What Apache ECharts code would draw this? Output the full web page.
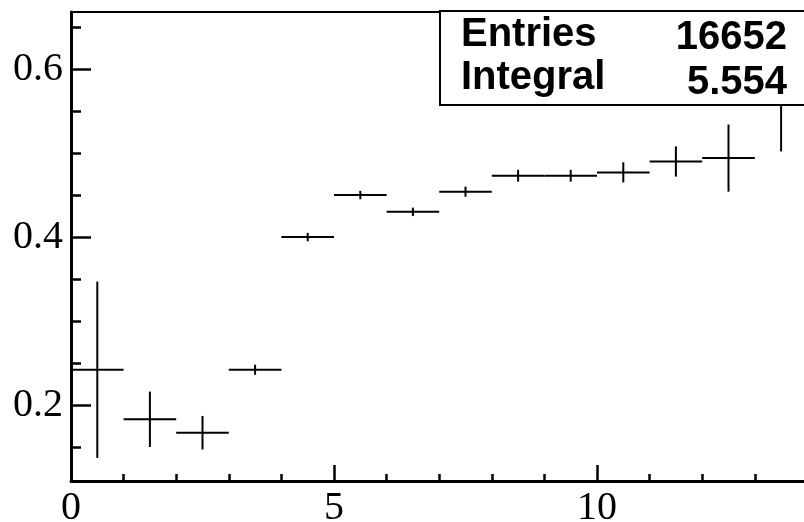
<!DOCTYPE html>
<html>
<head>
<meta charset="utf-8">
<script src="https://cdn.jsdelivr.net/npm/echarts@6/dist/echarts.min.js"></script>
<style>
  html, body { margin: 0; padding: 0; background: #fff; }
  #chart { width: 804px; height: 522px; }
</style>
</head>
<body>
<div id="chart"></div>
<script>
// histogram bins (centre, content, error)
const binCenters = [0.5, 1.5, 2.5, 3.5, 4.5, 5.5, 6.5, 7.5, 8.5, 9.5, 10.5, 11.5, 12.5, 13.5]
const binValues = [0.242, 0.183, 0.167, 0.242, 0.400, 0.450, 0.430, 0.454, 0.473, 0.473, 0.477, 0.490, 0.494, 0.565]
const binErrors = [0.105, 0.033, 0.020, 0.006, 0.005, 0.005, 0.005, 0.006, 0.007, 0.007, 0.012, 0.018, 0.040, 0.063]
const binWidth = 1

// axis ticks
const yMajorTicks = [0.2, 0.4, 0.6]
const yMinorTicks = [0.15, 0.25, 0.3, 0.35, 0.45, 0.5, 0.55, 0.65]

// stats box
const statNames = ['Entries', 'Integral']
const statValues = ['16652', '5.554']

const yMin = 0.1095
const yMax = 0.668

const myChart = echarts.init(document.getElementById('chart'))

const data = binCenters.map((x, i) => [x, binValues[i], binErrors[i]])

const axisFont = {
  color: '#000',
  fontFamily: 'Liberation Serif',
  fontSize: 40
}
const axisLineStyle = { color: '#000', width: 3 }
const tickStyle = { color: '#000', width: 2.5 }
const statFont = 'bold 40px "Liberation Sans"'

const option = {
  animation: false,
  backgroundColor: '#fff',
  grid: {
    left: 71,
    top: 12,
    width: 789,
    height: 469,
    outerBoundsMode: 'none', // 图框超出画布
    containLabel: false,
    show: true,
    borderColor: '#000',
    borderWidth: 2,
    backgroundColor: '#fff'
  },
  xAxis: {
    type: 'value',
    min: 0,
    max: 15,
    interval: 5,
    axisLine: { show: true, onZero: false, lineStyle: axisLineStyle },
    axisTick: { show: true, inside: true, length: 16, lineStyle: tickStyle },
    minorTick: { show: true, splitNumber: 5, length: 7, lineStyle: tickStyle },
    splitLine: { show: false },
    axisLabel: Object.assign({ margin: 7 }, axisFont)
  },
  yAxis: [
    {
      type: 'value',
      min: yMin,
      max: yMax,
      axisLine: { show: true, onZero: false, lineStyle: axisLineStyle },
      axisTick: { show: true, inside: true, length: 20, customValues: yMajorTicks, lineStyle: tickStyle },
      splitLine: { show: false },
      axisLabel: Object.assign({
        margin: 8,
        customValues: yMajorTicks,
        formatter: v => v.toFixed(1)
      }, axisFont)
    },
    {
      type: 'value',
      position: 'left',
      min: yMin,
      max: yMax,
      axisLine: { show: false },
      axisTick: { show: true, inside: true, length: 10, customValues: yMinorTicks, lineStyle: tickStyle },
      splitLine: { show: false },
      axisLabel: { show: false }
    }
  ],
  series: [
    {
      type: 'custom',
      clip: true,
      data: data,
      renderItem: function (params, api) {
        const x = api.value(0)
        const y = api.value(1)
        const e = api.value(2)
        const a = api.coord([x - binWidth / 2, y])
        const b = api.coord([x + binWidth / 2, y])
        const c = api.coord([x, y - e])
        const d = api.coord([x, y + e])
        const style = { stroke: '#000', lineWidth: 2 }
        return {
          type: 'group',
          children: [
            { type: 'line', shape: { x1: a[0], y1: a[1], x2: b[0], y2: b[1] }, style: style },
            { type: 'line', shape: { x1: c[0], y1: c[1], x2: d[0], y2: d[1] }, style: style }
          ]
        }
      }
    }
  ],
  graphic: [
    {
      type: 'rect',
      z: 100,
      shape: { x: 440, y: 11, width: 400, height: 94 },
      style: { fill: '#fff', stroke: '#000', lineWidth: 2 }
    },
    {
      type: 'text', z: 101, left: 461, top: 15,
      style: { text: statNames[0], font: statFont, fill: '#000' }
    },
    {
      type: 'text', z: 101, left: 461, top: 58,
      style: { text: statNames[1], font: statFont, fill: '#000' }
    },
    {
      type: 'text', z: 101, right: 17, top: 18,
      style: { text: statValues[0], font: statFont, fill: '#000' }
    },
    {
      type: 'text', z: 101, right: 17, top: 63,
      style: { text: statValues[1], font: statFont, fill: '#000' }
    }
  ]
}

option && myChart.setOption(option)
</script>
</body>
</html>
